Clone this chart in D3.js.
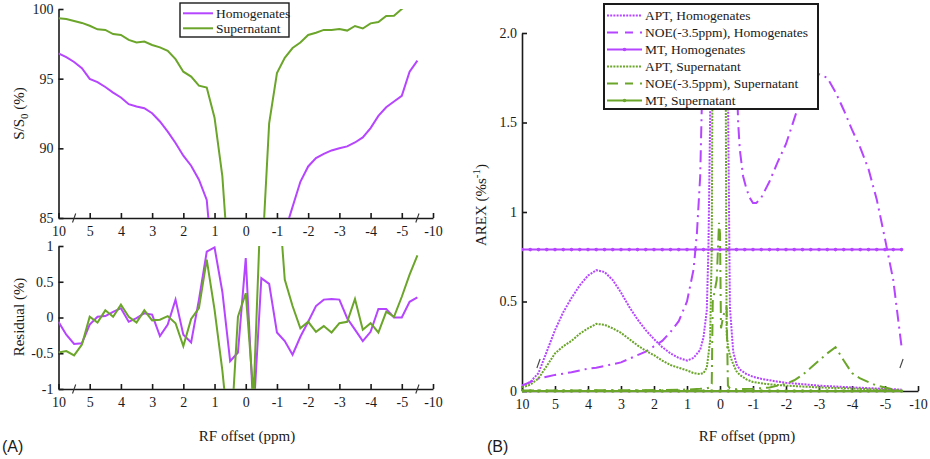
<!DOCTYPE html>
<html><head><meta charset="utf-8">
<script src="https://cdn.jsdelivr.net/npm/d3@7"></script>
<style>
body{margin:0;background:#fff}
svg{display:block}
text{fill:#1a1a1a}
</style>
</head><body>
<svg id="c" width="930" height="459"></svg>
<script>
// ---------- DATA ----------
const tickOffsets = [10,5,4,3,2,1,0,-1,-2,-3,-4,-5,-10];
const tickLabels  = ["10","5","4","3","2","1","0","-1","-2","-3","-4","-5","-10"];
const breakOffsets = [7.5,-7.5];

const offsetsA = [10,8.75,7.5,6.25,5,4.75,4.5,4.25,4,3.75,3.5,3.25,3,2.75,2.5,2.25,2,1.75,1.5,1.25,1,0.75,0.5,0.25,0,
  -0.25,-0.5,-0.75,-1,-1.25,-1.5,-1.75,-2,-2.25,-2.5,-2.75,-3,-3.25,-3.5,-3.75,-4,-4.25,-4.5,-4.75,-5,-6.25,-7.5];

const ssHom = [96.82,96.54,96.2,95.75,94.98,94.75,94.4,94.0,93.65,93.17,93.0,92.88,92.52,91.93,91.2,90.38,89.47,88.75,87.75,86.3,80,76,72,70,69,
  70,72,74,78,84.0,85.8,87.6,88.7,89.3,89.6,89.85,90.0,90.14,90.42,90.78,91.45,92.33,92.95,93.36,93.77,95.5,96.3];
const ssSup = [99.33,99.28,99.14,99.0,98.8,98.54,98.5,98.2,98.14,97.78,97.6,97.66,97.42,97.25,97.0,96.4,95.5,95.15,94.5,94.36,92.2,88.0,80,70,65,
  70,81.2,91.8,95.4,96.5,97.2,97.6,98.14,98.3,98.5,98.5,98.57,98.45,98.78,98.6,98.97,99.07,99.5,99.52,100.0,100.4,100.9];
const resHom = [-0.06,-0.24,-0.37,-0.36,-0.1,0.01,0.02,0.08,0.13,-0.06,-0.01,0.06,0.04,-0.26,-0.1,0.25,-0.24,-0.35,0.25,0.92,0.98,0.36,-0.61,-0.49,0.83,
  -1.35,0.55,0.47,-0.21,-0.33,-0.52,-0.27,-0.06,0.16,0.25,0.26,0.25,-0.01,-0.17,-0.33,-0.2,0.12,0.12,0,0,0.22,0.28];
const resSup = [-0.49,-0.47,-0.53,-0.38,0.01,-0.07,0.1,0.01,0.18,0.01,-0.07,0.1,-0.04,-0.03,0.02,-0.08,-0.4,-0.02,0.13,0.81,0.11,-0.74,-1.82,0.01,0.34,
  -1.1,1.82,2.5,2.0,0.53,0.16,-0.15,-0.06,-0.2,-0.12,-0.21,-0.08,-0.06,0.26,-0.17,-0.08,-0.21,0.08,0.01,0.29,0.6,0.87];

const ssTicks = [85,90,95,100];          const ssTickLabels = ["85","90","95","100"];
const resTicks = [-1,-0.5,0,0.5,1];      const resTickLabels = ["-1","-0.5","0","0.5","1"];
const arexTicks = [0,0.5,1,1.5,2];       const arexTickLabels = ["0","0.5","1","1.5","2.0"];

// Panel B series: [offset ppm, AREX]
const aptHom = [[10,0.03],[8.75,0.05],[7.5,0.1],[6.25,0.22],[5,0.34],[4.75,0.44],[4.5,0.52],[4.25,0.59],[4,0.645],[3.75,0.675],[3.5,0.665],[3.25,0.62],[3,0.55],[2.75,0.47],[2.5,0.4],[2.25,0.34],[2,0.29],[1.75,0.245],[1.5,0.21],[1.25,0.185],[1,0.17],[0.8,0.185],[0.6,0.23],[0.5,0.3],[0.4,0.45],[0.35,0.8],[0.3,1.5],[0.25,3],[0.1,6],[0,8],[-0.1,6],[-0.2,3],[-0.25,1.5],[-0.3,0.47],[-0.4,0.22],[-0.5,0.15],[-0.6,0.12],[-0.8,0.095],[-1,0.08],[-1.25,0.068],[-1.5,0.06],[-1.75,0.052],[-2,0.046],[-2.5,0.038],[-3,0.03],[-3.5,0.025],[-4,0.02],[-4.5,0.016],[-5,0.012],[-6.25,0.01],[-7.5,0.008]];
const noeHom = [[10,0.03],[8.75,0.05],[7.5,0.07],[6.25,0.08],[5,0.09],[4.75,0.097],[4.5,0.105],[4.25,0.115],[4,0.125],[3.75,0.13],[3.5,0.14],[3.25,0.15],[3,0.16],[2.75,0.18],[2.5,0.2],[2.25,0.22],[2,0.25],[1.75,0.28],[1.5,0.33],[1.25,0.39],[1,0.5],[0.8,0.68],[0.7,0.88],[0.6,1.2],[0.55,1.6],[0.5,2.3],[0.4,4],[0,6],[-0.4,4],[-0.45,2.4],[-0.5,1.8],[-0.55,1.5],[-0.6,1.35],[-0.7,1.2],[-0.8,1.13],[-0.9,1.08],[-1,1.05],[-1.1,1.05],[-1.25,1.08],[-1.5,1.17],[-1.75,1.28],[-2,1.38],[-2.25,1.52],[-2.5,1.66],[-2.75,1.74],[-3,1.77],[-3.25,1.75],[-3.5,1.67],[-3.75,1.57],[-4,1.46],[-4.25,1.36],[-4.5,1.24],[-4.75,1.07],[-5,0.85],[-6.25,0.62],[-7.5,0.25]];
const aptSup = [[10,0.02],[8.75,0.035],[7.5,0.07],[6.25,0.14],[5,0.21],[4.75,0.25],[4.5,0.28],[4.25,0.32],[4,0.35],[3.75,0.375],[3.5,0.37],[3.25,0.35],[3,0.325],[2.75,0.29],[2.5,0.255],[2.25,0.225],[2,0.2],[1.75,0.17],[1.5,0.145],[1.25,0.13],[1,0.115],[0.8,0.1],[0.6,0.095],[0.5,0.1],[0.4,0.13],[0.3,0.28],[0.25,0.8],[0.2,3],[0,6],[-0.15,3],[-0.2,0.32],[-0.25,0.24],[-0.3,0.2],[-0.4,0.15],[-0.5,0.11],[-0.6,0.09],[-0.8,0.065],[-1,0.05],[-1.5,0.037],[-2,0.03],[-2.5,0.025],[-3,0.02],[-3.5,0.017],[-4,0.014],[-4.5,0.01],[-5,0.007],[-6.25,0.004],[-7.5,0.002]];
const noeSup = [[10,0.003],[5,0.003],[3,0.004],[2,0.005],[1,0.008],[0.6,0.012],[0.4,0.015],[0.3,0.02],[0.25,0.04],[0.22,0.5],[0.1,0.62],[0.03,0.94],[0,0.88],[-0.03,0.35],[-0.1,0.42],[-0.2,0.47],[-0.24,0.03],[-0.3,0.015],[-0.5,0.01],[-1,0.012],[-1.5,0.02],[-2,0.04],[-2.25,0.06],[-2.5,0.09],[-2.75,0.13],[-3,0.17],[-3.25,0.21],[-3.5,0.245],[-3.75,0.17],[-4,0.1],[-4.25,0.07],[-4.5,0.05],[-4.75,0.03],[-5,0.02],[-6.25,0.008],[-7.5,0.003]];
const mtHom = [0.79,0.79,0.79,0.79,0.79,0.79,0.79,0.79,0.79,0.79,0.79,0.79,0.79,0.79,0.79,0.79,0.79,0.79,0.79,0.79,0.79,0.79,0.79,0.79,0.79,
  0.79,0.79,0.79,0.79,0.79,0.79,0.79,0.79,0.79,0.79,0.79,0.79,0.79,0.79,0.79,0.79,0.79,0.79,0.79,0.79,0.79,0.79];
const mtSup = [0,0,0,0,0,0,0,0,0,0,0,0,0,0,0,0,0,0,0,0,0,0,0,0,0,
  0,0,0,0,0,0,0,0,0,0,0,0,0,0,0,0,0,0,0,0,0,0];

const legendA = ["Homogenates","Supernatant"];
const legendB = ["APT, Homogenates","NOE(-3.5ppm), Homogenates","MT, Homogenates","APT, Supernatant","NOE(-3.5ppm), Supernatant","MT, Supernatant"];

// ---------- STYLE ----------
const PURPLE = "#B545FF", GREEN = "#6BA52A";
const DOT = "2,1.2", DASHDOT = "12,5,2,5";
const SERIF = '"Liberation Serif","Times New Roman",Times,serif';
const SANS = '"Liberation Sans",Arial,sans-serif';

// ---------- HELPERS ----------
function toU(v){ return v>5 ? 5+(v-5)/5 : (v<-5 ? -5+(v+5)/5 : v); }
const svg = d3.select("#c");
const defs = svg.append("defs");
function clip(id,x,y,w,h){ defs.append("clipPath").attr("id",id).append("rect").attr("x",x).attr("y",y).attr("width",w).attr("height",h); }
function txt(sel){ return sel.style("font-family",SERIF); }

function styleAxis(g, fs){
  g.selectAll(".domain").attr("stroke","#1a1a1a").attr("stroke-width",1.6);
  g.selectAll(".tick line").attr("stroke","#1a1a1a").attr("stroke-width",1.6);
  g.selectAll(".tick text").style("font-family",SERIF).style("font-size",fs+"px").attr("fill","#1a1a1a");
}
function xAxis(scale, y){
  const ax = d3.axisBottom(scale).tickValues(tickOffsets.map(toU)).tickFormat((d,i)=>tickLabels[i])
    .tickSize(-5).tickSizeOuter(0).tickPadding(8);
  const g = svg.append("g").attr("transform",`translate(0,${y})`).call(ax);
  styleAxis(g,14);
  return g;
}
function yAxis(scale, x, vals, labels){
  const ax = d3.axisLeft(scale).tickValues(vals).tickFormat((d,i)=>labels[i]).tickSize(-5).tickSizeOuter(0).tickPadding(5);
  const g = svg.append("g").attr("transform",`translate(${x},0)`).call(ax);
  styleAxis(g,14);
  return g;
}
function slash(x,y,col){
  svg.append("line").attr("x1",x-1.6).attr("y1",y+4.5).attr("x2",x+1.6).attr("y2",y-4.5).attr("stroke",col).attr("stroke-width",1.1);
}

// ---------- PANEL A ----------
const xA = d3.scaleLinear().domain([6,-6]).range([58.5,433]);
const yTop = d3.scaleLinear().domain([85,100]).range([218,9]);
const yBot = d3.scaleLinear().domain([-1,1]).range([389,246]);

xAxis(xA, 218); yAxis(yTop, 58.5, ssTicks, ssTickLabels);
xAxis(xA, 389); yAxis(yBot, 58.5, resTicks, resTickLabels);
breakOffsets.forEach(o=>{ slash(xA(toU(o)),218,"#333"); slash(xA(toU(o)),389,"#333"); });

clip("cTop",58.5,9,375,209);
clip("cBot",58.5,246,375,143);
const lineA = (ys)=> d3.line().x(d=>xA(toU(d[0]))).y(d=>ys(d[1]));
const gTop = svg.append("g").attr("clip-path","url(#cTop)");
gTop.append("path").attr("d",lineA(yTop)(d3.zip(offsetsA,ssHom))).attr("fill","none").attr("stroke",PURPLE).attr("stroke-width",2);
gTop.append("path").attr("d",lineA(yTop)(d3.zip(offsetsA,ssSup))).attr("fill","none").attr("stroke",GREEN).attr("stroke-width",2);
const gBot = svg.append("g").attr("clip-path","url(#cBot)");
gBot.append("path").attr("d",lineA(yBot)(d3.zip(offsetsA,resHom))).attr("fill","none").attr("stroke",PURPLE).attr("stroke-width",2);
gBot.append("path").attr("d",lineA(yBot)(d3.zip(offsetsA,resSup))).attr("fill","none").attr("stroke",GREEN).attr("stroke-width",2);

// legend A
const lgA = svg.append("g");
lgA.append("rect").attr("x",180).attr("y",3).attr("width",109).attr("height",34).attr("fill","#fff").attr("stroke","#1a1a1a").attr("stroke-width",1.4);
[PURPLE,GREEN].forEach((c,i)=>{
  const y = 13.3 + i*15;
  lgA.append("line").attr("x1",183).attr("x2",213).attr("y1",y).attr("y2",y).attr("stroke",c).attr("stroke-width",2);
  txt(lgA.append("text").attr("x",216).attr("y",y+4.5)).style("font-size","13.5px").text(legendA[i]);
});

// labels A
txt(svg.append("text").attr("transform","translate(24,113.5) rotate(-90)").attr("text-anchor","middle")).style("font-size","15px")
  .html('S/S<tspan font-size="11" dy="4">0</tspan><tspan dy="-4"> (%)</tspan>');
txt(svg.append("text").attr("transform","translate(24,317) rotate(-90)").attr("text-anchor","middle")).style("font-size","15px").text("Residual (%)");
txt(svg.append("text").attr("x",247).attr("y",441).attr("text-anchor","middle")).style("font-size","15px").text("RF offset (ppm)");
svg.append("text").attr("x",2).attr("y",452).style("font-size","16px").style("font-family",SANS).text("(A)");

// ---------- PANEL B ----------
const xB = d3.scaleLinear().domain([6,-6]).range([522,918]);
const yB = d3.scaleLinear().domain([0,2]).range([391,33]);
xAxis(xB, 391); yAxis(yB, 522, arexTicks, arexTickLabels);
breakOffsets.forEach(o=> slash(xB(toU(o)),363.5,"#444"));

clip("cB",522,33,396,362);
const gB = svg.append("g").attr("clip-path","url(#cB)");
const lineB = d3.line().x(d=>xB(toU(d[0]))).y(d=>yB(d[1]));
function drawB(data,color,dash){
  gB.append("path").attr("d",lineB(data)).attr("fill","none").attr("stroke",color).attr("stroke-width",2)
    .attr("stroke-dasharray",dash||null);
}
function drawMT(vals,color){
  const data = d3.zip(offsetsA,vals);
  drawB(data,color,null);
  gB.selectAll(null).data(data).enter().append("circle")
    .attr("cx",d=>xB(toU(d[0]))).attr("cy",d=>yB(d[1])).attr("r",1.8).attr("fill",color);
}
drawB(aptHom,PURPLE,DOT);
drawB(noeHom,PURPLE,DASHDOT);
drawMT(mtHom,PURPLE);
drawB(aptSup,GREEN,DOT);
drawB(noeSup,GREEN,DASHDOT);
drawMT(mtSup,GREEN);

// legend B
const lgB = svg.append("g");
lgB.append("rect").attr("x",604).attr("y",4).attr("width",214).attr("height",105).attr("fill","#fff").attr("stroke","#1a1a1a").attr("stroke-width",2);
const lgStyles = [[PURPLE,DOT],[PURPLE,"11,7,8,7,2,30"],[PURPLE,null],[GREEN,DOT],[GREEN,"11,7,8,7,2,30"],[GREEN,null]];
lgStyles.forEach((s,i)=>{
  const y = 15.5 + i*17;
  lgB.append("line").attr("x1",607).attr("x2",642).attr("y1",y).attr("y2",y).attr("stroke",s[0]).attr("stroke-width",2)
    .attr("stroke-dasharray",s[1]);
  if(i===2||i===5) lgB.append("circle").attr("cx",624.5).attr("cy",y).attr("r",1.8).attr("fill",s[0]);
  txt(lgB.append("text").attr("x",645).attr("y",y+4.5)).style("font-size","13.5px").text(legendB[i]);
});

// labels B
txt(svg.append("text").attr("transform","translate(486,205) rotate(-90)").attr("text-anchor","middle")).style("font-size","15px")
  .html('AREX (%s<tspan font-size="11" dy="-6">-1</tspan><tspan dy="6">)</tspan>');
txt(svg.append("text").attr("x",747).attr("y",441).attr("text-anchor","middle")).style("font-size","15px").text("RF offset (ppm)");
svg.append("text").attr("x",487).attr("y",452).style("font-size","16px").style("font-family",SANS).text("(B)");
</script>
</body></html>
